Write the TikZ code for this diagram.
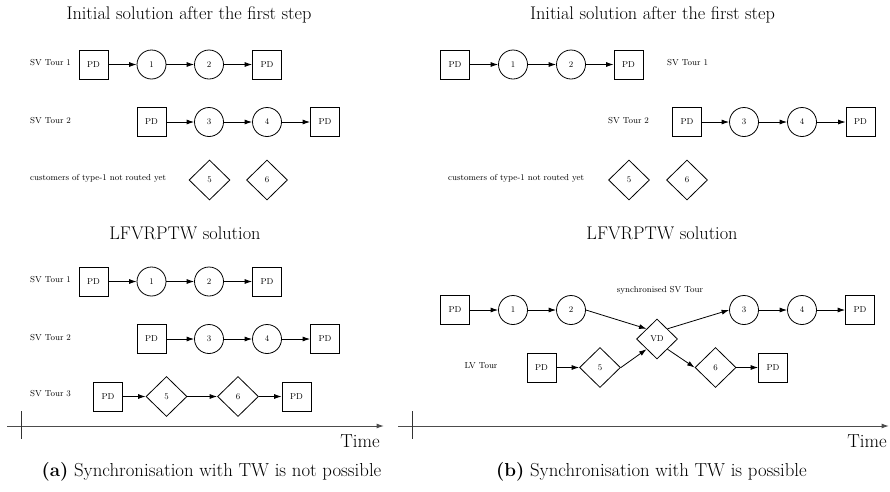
\documentclass[tikz,border=0pt]{standalone}
\usetikzlibrary{shapes.geometric,arrows.meta}
\begin{document}
\begin{tikzpicture}[x=1pt,y=-1pt,
  pd/.style={draw,rectangle,minimum size=29pt,inner sep=0pt,line width=0.8pt,font=\fontsize{8.6}{10}\selectfont},
  cu/.style={draw,circle,minimum size=29pt,inner sep=0pt,line width=0.8pt,font=\fontsize{8.6}{10}\selectfont},
  dm/.style={draw,diamond,minimum width=41pt,minimum height=40pt,inner sep=0pt,line width=0.8pt,font=\fontsize{8.6}{10}\selectfont},
  lab/.style={font=\fontsize{8.7}{10}\selectfont,inner sep=0pt},
  ttl/.style={font=\fontsize{18.3}{21}\selectfont,inner sep=0pt},
  captxt/.style={font=\fontsize{18.8}{22}\selectfont,inner sep=0pt},
  arr/.style={-{Latex[length=7.5pt,width=5pt]},line width=0.8pt},
  axisln/.style={-{Latex[length=7.5pt,width=5pt]},line width=1pt,black!70},
  tickln/.style={line width=1pt,black!80}]
\useasboundingbox (0,0) rectangle (890,491);

% ===== Panel (a) =====
\node[ttl] (ta) at (189,15) {Initial solution after the first step};
\node[lab,anchor=west] (la1) at (30,63) {SV Tour 1};
\node[pd] (a1s) at (93.5,64.5) {PD};
\node[cu] (a1a) at (151.5,64.5) {1};
\node[cu] (a1b) at (209,64.5) {2};
\node[pd] (a1e) at (267,64.5) {PD};
\draw[arr] (a1s) -- (a1a); \draw[arr] (a1a) -- (a1b); \draw[arr] (a1b) -- (a1e);

\node[lab,anchor=west] (la2) at (30,121) {SV Tour 2};
\node[pd] (a2s) at (151.5,122) {PD};
\node[cu] (a2a) at (209,122) {3};
\node[cu] (a2b) at (267,122) {4};
\node[pd] (a2e) at (325,122) {PD};
\draw[arr] (a2s) -- (a2a); \draw[arr] (a2a) -- (a2b); \draw[arr] (a2b) -- (a2e);

\node[lab,anchor=west] (la3) at (30,178) {customers of type-1 not routed yet};
\node[dm] (a5) at (209.5,180) {5};
\node[dm] (a6) at (267,180) {6};

\node[ttl] (tb) at (185,233) {LFVRPTW solution};
\node[lab,anchor=west] (lb1) at (30,280) {SV Tour 1};
\node[pd] (b1s) at (93.5,281.5) {PD};
\node[cu] (b1a) at (151.5,281.5) {1};
\node[cu] (b1b) at (209,281.5) {2};
\node[pd] (b1e) at (267,281.5) {PD};
\draw[arr] (b1s) -- (b1a); \draw[arr] (b1a) -- (b1b); \draw[arr] (b1b) -- (b1e);

\node[lab,anchor=west] (lb2) at (30,338) {SV Tour 2};
\node[pd] (b2s) at (151.5,339) {PD};
\node[cu] (b2a) at (209,339) {3};
\node[cu] (b2b) at (267,339) {4};
\node[pd] (b2e) at (325,339) {PD};
\draw[arr] (b2s) -- (b2a); \draw[arr] (b2a) -- (b2b); \draw[arr] (b2b) -- (b2e);

\node[lab,anchor=west] (lb3) at (30,394) {SV Tour 3};
\node[pd] (b3s) at (108,396.5) {PD};
\node[dm] (b3a) at (166.5,396.5) {5};
\node[dm] (b3b) at (238,396.5) {6};
\node[pd] (b3e) at (296.5,396.5) {PD};
\draw[arr] (b3s) -- (b3a); \draw[arr] (b3a) -- (b3b); \draw[arr] (b3b) -- (b3e);

\coordinate (axa0) at (7,426);
\coordinate (axa1) at (384,426);
\draw[axisln] (axa0) -- (axa1);
\coordinate (tka0) at (21,411);
\coordinate (tka1) at (21,439);
\draw[tickln] (tka0) -- (tka1);
\node[captxt,anchor=east] (timea) at (380,441) {Time};
\node[captxt] (capa) at (211.5,471.5) {\textbf{(a)} Synchronisation with TW is not possible};

% ===== Panel (b) =====
\node[ttl] (tc) at (652.5,15) {Initial solution after the first step};
\node[pd] (c1s) at (455,64.5) {PD};
\node[cu] (c1a) at (513,64.5) {1};
\node[cu] (c1b) at (571,64.5) {2};
\node[pd] (c1e) at (628.5,64.5) {PD};
\draw[arr] (c1s) -- (c1a); \draw[arr] (c1a) -- (c1b); \draw[arr] (c1b) -- (c1e);
\node[lab,anchor=west] (lc1) at (667,63) {SV Tour 1};

\node[lab,anchor=west] (lc2) at (608,121) {SV Tour 2};
\node[pd] (c2s) at (687,122) {PD};
\node[cu] (c2a) at (744,122) {3};
\node[cu] (c2b) at (802,122) {4};
\node[pd] (c2e) at (860.5,122) {PD};
\draw[arr] (c2s) -- (c2a); \draw[arr] (c2a) -- (c2b); \draw[arr] (c2b) -- (c2e);

\node[lab,anchor=west] (lc3) at (448,178) {customers of type-1 not routed yet};
\node[dm] (c5) at (629,180) {5};
\node[dm] (c6) at (687,180) {6};

\node[ttl] (td) at (662,233) {LFVRPTW solution};
\node[lab] (sync) at (660,290) {synchronised SV Tour};
\node[pd] (d1s) at (455,310) {PD};
\node[cu] (d1a) at (513,310) {1};
\node[cu] (d1b) at (571,310) {2};
\node[cu] (d1c) at (744,310) {3};
\node[cu] (d1d) at (802,310) {4};
\node[pd] (d1e) at (860,310) {PD};
\node[dm] (vd) at (657,339) {VD};
\node[lab] (lv) at (481,366) {LV Tour};
\node[pd] (d2s) at (541.5,367.5) {PD};
\node[dm] (d5) at (600,367.5) {5};
\node[dm] (d6) at (715.5,367.5) {6};
\node[pd] (d2e) at (773,367.5) {PD};
\draw[arr] (d1s) -- (d1a); \draw[arr] (d1a) -- (d1b); \draw[arr] (d1b.east) -- (vd.north west);
\draw[arr] (vd.north east) -- (d1c.west); \draw[arr] (d1c) -- (d1d); \draw[arr] (d1d) -- (d1e);
\draw[arr] (d2s) -- (d5); \draw[arr] (d5.east) -- (vd.south west); \draw[arr] (vd.south east) -- (d6.west); \draw[arr] (d6) -- (d2e);

\coordinate (axb0) at (398,426);
\coordinate (axb1) at (889,426);
\draw[axisln] (axb0) -- (axb1);
\coordinate (tkb0) at (412,411);
\coordinate (tkb1) at (412,439);
\draw[tickln] (tkb0) -- (tkb1);
\node[captxt,anchor=east] (timeb) at (887,441) {Time};
\node[captxt] (capb) at (651.5,471.5) {\textbf{(b)} Synchronisation with TW is possible};
\end{tikzpicture}
\end{document}
